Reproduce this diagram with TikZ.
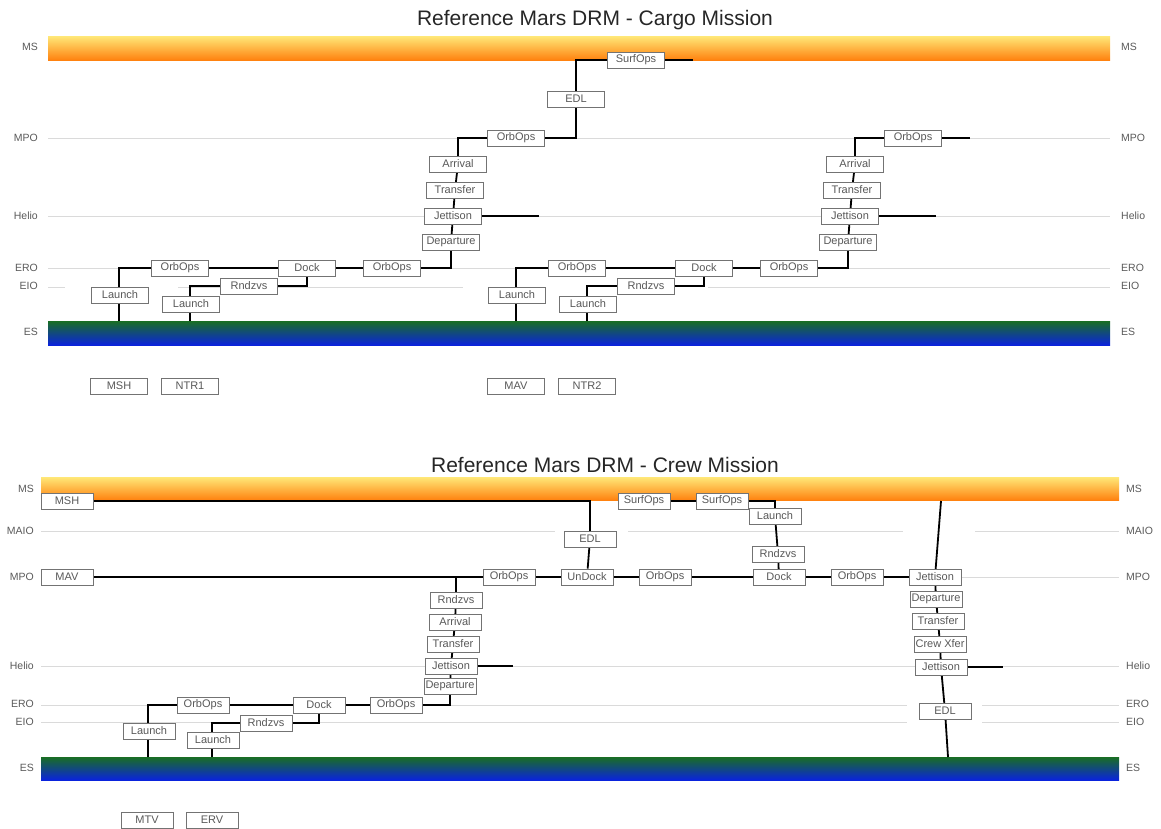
\documentclass[tikz,border=0pt]{standalone}
\usepackage{fontspec}
\setmainfont{Liberation Sans}
\usetikzlibrary{backgrounds}
\definecolor{orTop}{RGB}{255,232,120}
\definecolor{orBot}{RGB}{255,130,15}
\definecolor{esTop}{RGB}{25,110,35}
\definecolor{esBot}{RGB}{10,35,220}
\definecolor{orbit}{RGB}{218,218,218}
\definecolor{lbl}{RGB}{90,90,90}
\begin{document}
\begin{tikzpicture}[x=1pt,y=-1pt,
  boxA/.style={draw=black!55,fill=white,line width=0.7pt,minimum width=57pt,minimum height=16pt,inner sep=0pt,font=\fontsize{11}{12}\selectfont,text=black!65},
  boxB/.style={boxA,minimum width=52pt},
  conn/.style={line width=1.8pt,black},
  orbitline/.style={orbit,line width=1pt},
  lvl/.style={font=\fontsize{10.5}{12}\selectfont,text=lbl,inner sep=0pt},
  ttl/.style={font=\fontsize{21}{25}\selectfont,text=black!85}]
\useasboundingbox (0,0) rectangle (1161,828);

% ---------- backgrounds: bars and orbit levels ----------
\begin{pgfonlayer}{background}
\shade[top color=orTop,bottom color=orBot] (48,36) rectangle (1110,60);
\shade[top color=esTop,bottom color=esBot] (48,321) rectangle (1110,345);
\draw[orbitline] (48,138) -- (1110,138);
\draw[orbitline] (48,216) -- (1110,216);
\draw[orbitline] (48,268) -- (1110,268);
\draw[orbitline] (48,287) -- (65,287) (178,287) -- (463,287) (708,287) -- (1110,287);
\shade[top color=orTop,bottom color=orBot] (41,477) rectangle (1119,500);
\shade[top color=esTop,bottom color=esBot] (41,757) rectangle (1119,780);
\draw[orbitline] (41,531) -- (555,531) (628,531) -- (903,531) (975,531) -- (1119,531);
\draw[orbitline] (41,577) -- (1119,577);
\draw[orbitline] (41,666) -- (1119,666);
\draw[orbitline] (41,705) -- (907,705) (982,705) -- (1119,705);
\draw[orbitline] (41,722) -- (907,722) (982,722) -- (1119,722);
\end{pgfonlayer}

% ---------- titles ----------
\node[ttl] (t1) at (595,20) {Reference Mars DRM - Cargo Mission};
\node[ttl] (t2) at (605,465) {Reference Mars DRM - Crew Mission};

% ---------- level labels, top ----------
\node[lvl,anchor=east] (l1) at (38,47) {MS};
\node[lvl,anchor=east] (l2) at (38,138) {MPO};
\node[lvl,anchor=east] (l3) at (38,216) {Helio};
\node[lvl,anchor=east] (l4) at (38,268) {ERO};
\node[lvl,anchor=east] (l5) at (38,286) {EIO};
\node[lvl,anchor=east] (l6) at (38,332) {ES};
\node[lvl,anchor=west] (r1) at (1121,47) {MS};
\node[lvl,anchor=west] (r2) at (1121,138) {MPO};
\node[lvl,anchor=west] (r3) at (1121,216) {Helio};
\node[lvl,anchor=west] (r4) at (1121,268) {ERO};
\node[lvl,anchor=west] (r5) at (1121,286) {EIO};
\node[lvl,anchor=west] (r6) at (1121,332) {ES};
% ---------- level labels, bottom ----------
\node[lvl,anchor=east] (bl1) at (34,489) {MS};
\node[lvl,anchor=east] (bl2) at (34,531) {MAIO};
\node[lvl,anchor=east] (bl3) at (34,577) {MPO};
\node[lvl,anchor=east] (bl4) at (34,666) {Helio};
\node[lvl,anchor=east] (bl5) at (34,704) {ERO};
\node[lvl,anchor=east] (bl6) at (34,722) {EIO};
\node[lvl,anchor=east] (bl7) at (34,768) {ES};
\node[lvl,anchor=west] (br1) at (1126,489) {MS};
\node[lvl,anchor=west] (br2) at (1126,531) {MAIO};
\node[lvl,anchor=west] (br3) at (1126,577) {MPO};
\node[lvl,anchor=west] (br4) at (1126,666) {Helio};
\node[lvl,anchor=west] (br5) at (1126,704) {ERO};
\node[lvl,anchor=west] (br6) at (1126,722) {EIO};
\node[lvl,anchor=west] (br7) at (1126,768) {ES};

% ---------- cargo mission: two identical flows ----------
\foreach \s/\p in {0/a,397/b}{
  \node[boxA] (\p L1) at (120+\s,295) {Launch};
  \node[boxA] (\p O1) at (180+\s,268) {OrbOps};
  \node[boxA] (\p D) at (307+\s,268) {Dock};
  \node[boxA] (\p O2) at (392+\s,268) {OrbOps};
  \node[boxA] (\p L2) at (191+\s,304) {Launch};
  \node[boxA] (\p R) at (249+\s,286) {Rndzvs};
  \node[boxA] (\p Dep) at (451+\s,242) {Departure};
  \node[boxA] (\p J) at (453+\s,216) {Jettison};
  \node[boxA] (\p T) at (455+\s,190) {Transfer};
  \node[boxA] (\p A) at (458+\s,164) {Arrival};
  \node[boxA] (\p O3) at (516+\s,138) {OrbOps};
  \coordinate (\p es1) at (119+\s,321);
  \coordinate (\p es2) at (190+\s,321);
  \coordinate (\p jend) at (539+\s,216);
  \begin{pgfonlayer}{background}
  \draw[conn] (\p es1) |- (\p O1.center);
  \draw[conn] (\p O1) -- (\p D);
  \draw[conn] (\p es2) |- (\p R.center);
  \draw[conn] (\p R.center) -| (\p D.center);
  \draw[conn] (\p D) -- (\p O2);
  \draw[conn] (\p O2.center) -| (\p Dep.center);
  \draw[conn] (\p Dep.center) -- (\p J.center) -- (\p T.center) -- (\p A.center);
  \draw[conn] (\p A.center) |- (\p O3.center);
  \draw[conn] (\p J.center) -- (\p jend);
  \end{pgfonlayer}
}
\node[boxA] (aEDL) at (576,99) {EDL};
\node[boxA] (aSO) at (636,60) {SurfOps};
\coordinate (aSOend) at (693,60);
\coordinate (bO3end) at (970,138);
\begin{pgfonlayer}{background}
\draw[conn] (aO3.center) -| (aEDL.center);
\draw[conn] (aEDL.center) |- (aSO.center);
\draw[conn] (aSO.center) -- (aSOend);
\draw[conn] (bO3.center) -- (bO3end);
\end{pgfonlayer}
\node[boxA] (vMSH) at (119,386) {MSH};
\node[boxA] (vNTR1) at (190,386) {NTR1};
\node[boxA] (vMAV) at (516,386) {MAV};
\node[boxA] (vNTR2) at (587,386) {NTR2};

% ---------- crew mission ----------
\node[boxB] (cMSH) at (67,501) {MSH};
\node[boxB] (cMAV) at (67,577) {MAV};
\node[boxB] (cSO1) at (644,501) {SurfOps};
\node[boxB] (cSO2) at (722,501) {SurfOps};
\node[boxB] (cLM) at (775,516) {Launch};
\node[boxB] (cEDL) at (590,539) {EDL};
\node[boxB] (cRM) at (778,554) {Rndzvs};
\node[boxB] (cDM) at (779,577) {Dock};
\node[boxB] (cOM1) at (509,577) {OrbOps};
\node[boxB] (cUD) at (587,577) {UnDock};
\node[boxB] (cOM2) at (665,577) {OrbOps};
\node[boxB] (cOM3) at (857,577) {OrbOps};
\node[boxB] (cJM) at (935,577) {Jettison};
\node[boxB] (cRE) at (456,600) {Rndzvs};
\node[boxB] (cAr) at (455,622) {Arrival};
\node[boxB] (cTr) at (453,644) {Transfer};
\node[boxB] (cJH) at (451,666) {Jettison};
\node[boxB] (cDE) at (450,686) {Departure};
\node[boxB] (cL1) at (149,731) {Launch};
\node[boxB] (cO1) at (203,705) {OrbOps};
\node[boxB] (cD) at (319,705) {Dock};
\node[boxB] (cO2) at (396,705) {OrbOps};
\node[boxB] (cR) at (266,723) {Rndzvs};
\node[boxB] (cL2) at (213,740) {Launch};
\node[boxB] (cDep2) at (936,599) {Departure};
\node[boxB] (cTr2) at (938,621) {Transfer};
\node[boxB] (cCX) at (940,644) {Crew Xfer};
\node[boxB] (cJ2) at (941,667) {Jettison};
\node[boxB] (cEDL2) at (945,711) {EDL};
\node[boxB] (cMTV) at (147,820) {MTV};
\node[boxB] (cERV) at (212,820) {ERV};
\coordinate (ces1) at (148,757);
\coordinate (ces2) at (212,757);
\coordinate (ces3) at (948,757);
\coordinate (cmsTop) at (941,501);
\coordinate (cjhEnd) at (513,666);
\coordinate (cj2End) at (1003,667);
\begin{pgfonlayer}{background}
\draw[conn] (cMSH.center) -| (cEDL.center);
\draw[conn] (cEDL) -- (cUD);
\draw[conn] (cMAV) -- (cOM1);
\draw[conn] (cRE.center) -- (cRE.center |- cMAV.center);
\draw[conn] (cRE.center) -- (cAr.center) -- (cTr.center) -- (cJH.center) -- (cDE.center);
\draw[conn] (cDE.center) |- (cO2.center);
\draw[conn] (cJH.center) -- (cjhEnd);
\draw[conn] (cOM1) -- (cUD);
\draw[conn] (cUD) -- (cOM2);
\draw[conn] (cOM2) -- (cDM);
\draw[conn] (cDM) -- (cOM3);
\draw[conn] (cOM3) -- (cJM);
\draw[conn] (cSO1) -- (cSO2);
\draw[conn] (cSO2.center) -| (cLM.center);
\draw[conn] (cLM.center) -- (cRM.center) -- (cDM.center);
\draw[conn] (cJM.center) -- (cmsTop);
\draw[conn] (cJM.center) -- (cDep2.center) -- (cTr2.center) -- (cCX.center) -- (cJ2.center) -- (cEDL2.center) -- (ces3);
\draw[conn] (cJ2.center) -- (cj2End);
\draw[conn] (ces1) |- (cO1.center);
\draw[conn] (cO1) -- (cD);
\draw[conn] (cD) -- (cO2);
\draw[conn] (ces2) |- (cR.center);
\draw[conn] (cR.center) -| (cD.center);
\end{pgfonlayer}
\end{tikzpicture}
\end{document}
